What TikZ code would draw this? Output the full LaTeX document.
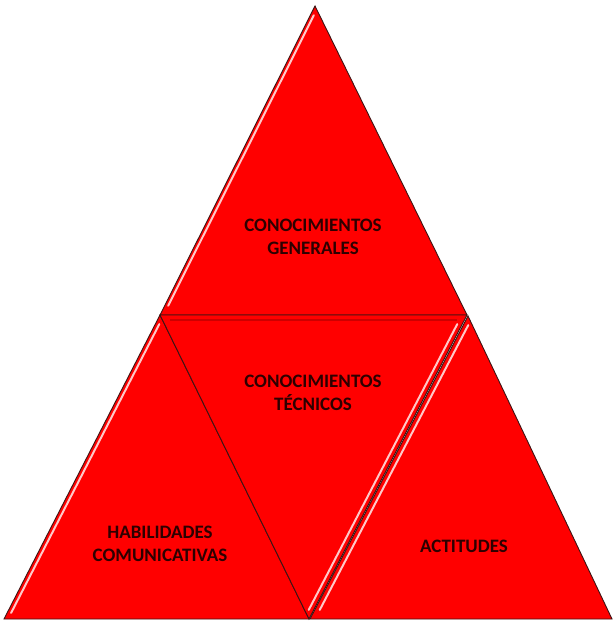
\documentclass[tikz,border=0pt]{standalone}
\usepackage{fontspec}
\setmainfont{Carlito}
\usetikzlibrary{calc}
\definecolor{tri}{RGB}{255,0,0}
\definecolor{triedge}{RGB}{60,20,20}
\definecolor{hilite}{RGB}{255,200,200}
\definecolor{shade}{RGB}{205,0,0}
\definecolor{txt}{RGB}{45,0,0}
\tikzset{
  trifill/.style={fill=tri, draw=triedge, line width=0.9pt, line join=miter},
  hl/.style={draw=hilite, line width=2pt, line cap=round},
  sh/.style={draw=shade, line width=1.5pt},
  lbl/.style={font=\bfseries\fontsize{19}{23}\selectfont, text=txt, align=center, inner sep=0pt}
}
\begin{document}
\begin{tikzpicture}[x=1pt,y=-1pt]
\useasboundingbox (0,0) rectangle (613,621);
% vertices
\coordinate (A) at (315,6);
\coordinate (L) at (160,315);
\coordinate (R) at (467,315);
\coordinate (BL) at (4,619);
\coordinate (BM) at (309,619);
\coordinate (BM2) at (310,619);
\coordinate (BR) at (612,619);
\coordinate (R2) at (468,316);
% right triangle (drawn first, middle overlaps it)
\draw[trifill] (R2) -- (BR) -- (BM2) -- cycle;
% top triangle
\draw[trifill] (A) -- (R) -- (L) -- cycle;
\draw[hl] ($(A)!0.03!(L)+(3.5,0)$) -- ($(A)!0.97!(L)+(3.5,0)$);
% left triangle
\draw[trifill] (L) -- (BM) -- (BL) -- cycle;
\draw[hl] ($(L)!0.03!(BL)+(4,0)$) -- ($(L)!0.98!(BL)+(4,0)$);
% middle inverted triangle
\draw[trifill] (L) -- (R) -- (BM) -- cycle;
\draw[sh] ($(L)+(10,5)$) -- ($(R)+(-10,5)$);
\draw[hl] ($(R)!0.03!(BM)+(-5,0)$) -- ($(R)!0.97!(BM)+(-5,0)$);
% right triangle highlight
\draw[hl] ($(R2)!0.03!(BM2)+(5,0)$) -- ($(R2)!0.97!(BM2)+(5,0)$);
% labels
\node[lbl] (gen) at (313,237) {CONOCIMIENTOS\\GENERALES};
\node[lbl] (tec) at (313,393) {CONOCIMIENTOS\\TÉCNICOS};
\node[lbl] (hab) at (160,544) {HABILIDADES\\COMUNICATIVAS};
\node[lbl] (act) at (464,546) {ACTITUDES};
\end{tikzpicture}
\end{document}
